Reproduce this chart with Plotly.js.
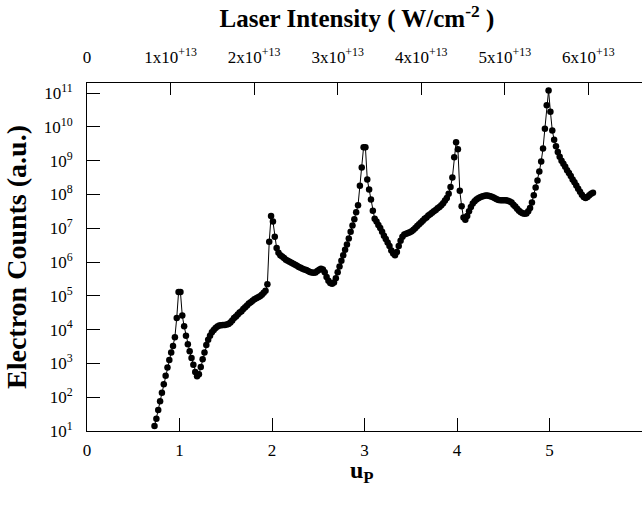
<!DOCTYPE html>
<html>
<head>
<meta charset="utf-8">
<script src="https://cdn.plot.ly/plotly-3.0.1.min.js"></script>
<style>html,body{margin:0;padding:0;background:#fff;}#chart{width:642px;height:506px;}</style>
</head>
<body>
<div id="chart"></div>
<script>
// Ponderomotive energy (u_P) grid of the measured points
const upValues = [
  0.73,0.75,0.77,0.79,0.81,0.83,0.85,0.87,0.89,0.91,
  0.93,0.95,0.97,0.99,1.01,1.03,1.05,1.07,1.09,1.11,
  1.13,1.15,1.17,1.19,1.21,1.23,1.25,1.27,1.29,1.31,
  1.33,1.35,1.37,1.39,1.41,1.43,1.45,1.47,1.49,1.51,
  1.53,1.55,1.57,1.59,1.61,1.63,1.65,1.67,1.69,1.71,
  1.73,1.75,1.77,1.79,1.81,1.83,1.85,1.87,1.89,1.91,
  1.93,1.95,1.97,1.99,2.01,2.03,2.05,2.07,2.09,2.11,
  2.13,2.15,2.17,2.19,2.21,2.23,2.25,2.27,2.29,2.31,
  2.33,2.35,2.37,2.39,2.41,2.43,2.45,2.47,2.49,2.51,
  2.53,2.55,2.57,2.59,2.61,2.63,2.65,2.67,2.69,2.71,
  2.73,2.75,2.77,2.79,2.81,2.83,2.85,2.87,2.89,2.91,
  2.93,2.95,2.97,2.99,3.01,3.03,3.05,3.07,3.09,3.11,
  3.13,3.15,3.17,3.19,3.21,3.23,3.25,3.27,3.29,3.31,
  3.33,3.35,3.37,3.39,3.41,3.43,3.45,3.47,3.49,3.51,
  3.53,3.55,3.57,3.59,3.61,3.63,3.65,3.67,3.69,3.71,
  3.73,3.75,3.77,3.79,3.81,3.83,3.85,3.87,3.89,3.91,
  3.93,3.95,3.97,3.99,4.01,4.03,4.05,4.07,4.09,4.11,
  4.13,4.15,4.17,4.19,4.21,4.23,4.25,4.27,4.29,4.31,
  4.33,4.35,4.37,4.39,4.41,4.43,4.45,4.47,4.49,4.51,
  4.53,4.55,4.57,4.59,4.61,4.63,4.65,4.67,4.69,4.71,
  4.73,4.75,4.77,4.79,4.81,4.83,4.85,4.87,4.89,4.91,
  4.93,4.95,4.97,4.99,5.01,5.03,5.05,5.07,5.09,5.11,
  5.13,5.15,5.17,5.19,5.21,5.23,5.25,5.27,5.29,5.31,
  5.33,5.35,5.37,5.39,5.41,5.43,5.45,5.47
];

// Electron counts (a.u.)
const electronCounts = [
  1.4e1,2.3e1,4.2e1,7.6e1,1.35e2,2.4e2,4.3e2,7.6e2,1.26e3,2.1e3,
  3.3e3,6.0e3,2.2e4,1.3e5,1.3e5,2.6e4,1.26e4,6.6e3,3.7e3,2.3e3,
  1.45e3,9.1e2,5.6e2,4.2e2,4.8e2,7.9e2,1.32e3,2.1e3,3.5e3,5.0e3,
  6.6e3,8.3e3,9.8e3,1.12e4,1.23e4,1.32e4,1.35e4,1.38e4,1.38e4,1.41e4,
  1.48e4,1.62e4,1.86e4,2.2e4,2.45e4,2.8e4,3.2e4,3.5e4,4.1e4,4.6e4,
  5.2e4,5.9e4,6.5e4,7.2e4,7.9e4,8.5e4,9.1e4,9.8e4,1.07e5,1.23e5,
  1.41e5,2.2e5,4.0e6,2.3e7,1.6e7,5.6e6,2.6e6,1.9e6,1.6e6,1.45e6,
  1.32e6,1.17e6,1.1e6,1.02e6,9.5e5,8.9e5,8.3e5,7.8e5,7.2e5,6.8e5,
  6.3e5,6.0e5,5.8e5,5.4e5,5.1e5,4.9e5,4.8e5,4.9e5,5.4e5,5.9e5,
  6.3e5,6.0e5,5.0e5,3.6e5,2.8e5,2.4e5,2.3e5,2.5e5,3.3e5,5.0e5,
  7.4e5,1.1e6,1.6e6,2.3e6,3.3e6,5.0e6,7.9e6,1.2e7,1.86e7,3.0e7,
  4.8e7,1.8e8,6.3e8,2.5e9,2.5e9,2.8e8,1.4e8,7.1e7,3.3e7,1.9e7,
  1.6e7,1.26e7,1.02e7,7.9e6,6.0e6,4.8e6,3.8e6,3.0e6,2.2e6,1.8e6,
  1.6e6,2.0e6,3.0e6,4.3e6,5.6e6,6.5e6,6.9e6,7.2e6,7.6e6,8.1e6,
  9.1e6,1.02e7,1.17e7,1.32e7,1.48e7,1.66e7,1.9e7,2.1e7,2.4e7,2.6e7,
  2.9e7,3.2e7,3.5e7,3.9e7,4.3e7,4.8e7,5.5e7,6.6e7,7.9e7,1.05e8,
  1.66e8,3.2e8,1.26e9,3.5e9,2.2e9,1.3e8,4.5e7,2.1e7,1.8e7,2.3e7,
  3.2e7,4.3e7,5.4e7,6.3e7,7.1e7,7.8e7,8.3e7,8.7e7,9.1e7,9.3e7,
  9.3e7,9.1e7,8.7e7,8.3e7,7.8e7,7.2e7,6.9e7,6.8e7,6.8e7,6.8e7,
  6.8e7,6.5e7,6.2e7,5.8e7,5.0e7,4.4e7,3.8e7,3.3e7,3.0e7,2.8e7,
  2.7e7,2.75e7,3.2e7,4.0e7,5.8e7,9.5e7,1.6e8,2.6e8,4.8e8,9.5e8,
  2.3e9,8.9e9,4.4e10,1.2e11,2.8e10,7.9e9,4.2e9,2.7e9,1.8e9,1.32e9,
  1.0e9,8.1e8,6.6e8,5.2e8,4.3e8,3.5e8,2.8e8,2.3e8,1.86e8,1.48e8,
  1.2e8,9.8e7,8.5e7,7.9e7,8.5e7,9.5e7,1.05e8,1.12e8
];

// Bottom axis ticks (u_P)
const upTicks = [0,1,2,3,4,5,6];
const upTickLabels = ['0','1','2','3','4','5','6'];

// Top axis ticks (laser intensity, W/cm^-2)
const intensityTicks = [0,1e13,2e13,3e13,4e13,5e13,6e13];
const intensityTickLabels = ['0','1x10<sup>+13</sup>','2x10<sup>+13</sup>','3x10<sup>+13</sup>','4x10<sup>+13</sup>','5x10<sup>+13</sup>','6x10<sup>+13</sup>'];

// Left axis ticks (electron counts)
const countTicks = [1e1,1e2,1e3,1e4,1e5,1e6,1e7,1e8,1e9,1e10,1e11];
const countTickLabels = ['10<sup>1</sup>','10<sup>2</sup>','10<sup>3</sup>','10<sup>4</sup>','10<sup>5</sup>','10<sup>6</sup>','10<sup>7</sup>','10<sup>8</sup>','10<sup>9</sup>','10<sup>10</sup>','10<sup>11</sup>'];

const FONT = 'Liberation Serif, Times New Roman, Times, serif';

const traces = [
  {
    x: upValues,
    y: electronCounts,
    type: 'scatter',
    mode: 'lines+markers',
    line: {color: '#000', width: 1},
    marker: {color: '#000', size: 6.5},
    hoverinfo: 'skip',
    showlegend: false,
    cliponaxis: false
  },
  {
    x: intensityTicks,
    y: intensityTicks.map(() => null),
    xaxis: 'x2',
    yaxis: 'y',
    type: 'scatter',
    mode: 'markers',
    hoverinfo: 'skip',
    showlegend: false
  }
];

const tickFont = {family: FONT, size: 17, color: '#000'};

const axisBase = {
  ticks: 'inside',
  tickwidth: 1,
  tickcolor: '#000',
  showline: true,
  linecolor: '#000',
  linewidth: 1,
  showgrid: false,
  zeroline: false,
  automargin: false,
  tickfont: tickFont
};

const NB = '\u00a0';

const layout = {
  width: 642,
  height: 506,
  margin: {l: 87, r: 0, t: 83, b: 75, pad: 0},
  paper_bgcolor: '#fff',
  plot_bgcolor: '#fff',
  font: {family: FONT, color: '#000'},
  showlegend: false,
  title: {
    text: '<b>Laser Intensity ( W/cm<sup>-2</sup> )</b>',
    font: {family: FONT, size: 25, color: '#000'},
    x: 0.556, xanchor: 'center', xref: 'container',
    y: 0.963, yanchor: 'middle', yref: 'container'
  },
  xaxis: Object.assign({}, axisBase, {
    range: [0, 6],
    tickmode: 'array',
    tickvals: upTicks,
    ticktext: upTickLabels,
    ticklen: 13,
    ticklabelstandoff: 4
  }),
  xaxis2: Object.assign({}, axisBase, {
    overlaying: 'x',
    side: 'top',
    anchor: 'y',
    range: [0, 6.642e13],
    tickmode: 'array',
    tickvals: intensityTicks,
    ticktext: intensityTickLabels,
    ticklen: 12,
    ticklabelstandoff: 12
  }),
  yaxis: Object.assign({}, axisBase, {
    type: 'log',
    range: [1, 11.3],
    tickmode: 'array',
    tickvals: countTicks,
    ticktext: countTickLabels,
    ticklen: 13,
    ticklabelstandoff: 10,
    title: {text: '<b>Electron Counts (a.u.)</b>' + NB + NB + NB + NB, font: {family: FONT, size: 28, color: '#000'}, standoff: 8}
  }),
  annotations: [
    {
      text: '<b>u<sub>P</sub></b>',
      xref: 'paper', yref: 'paper',
      x: 0.495, y: -0.118,
      xanchor: 'center', yanchor: 'middle',
      showarrow: false,
      font: {family: FONT, size: 24, color: '#000'}
    }
  ]
};

Plotly.newPlot('chart', traces, layout, {displayModeBar: false, staticPlot: true});
</script>
</body>
</html>
